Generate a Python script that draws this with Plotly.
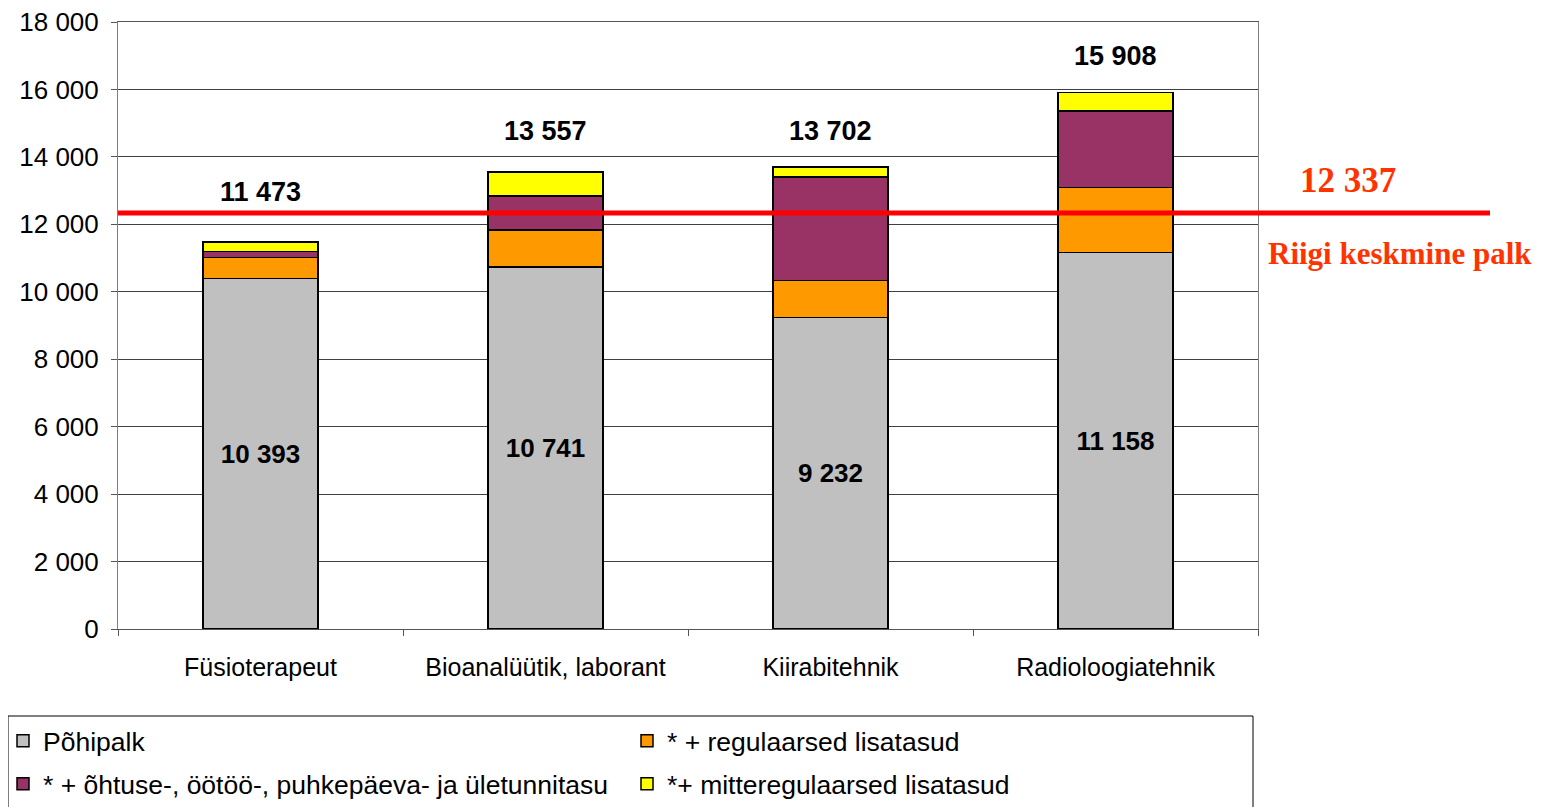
import plotly.graph_objects as go

categories = ["Füsioterapeut", "Bioanalüütik, laborant", "Kiirabitehnik", "Radioloogiatehnik"]
series_names = ["Põhipalk", "* + regulaarsed lisatasud",
                "* + õhtuse-, öötöö-, puhkepäeva- ja ületunnitasu", "*+ mitteregulaarsed lisatasud"]
pohipalk = [10393, 10741, 9232, 11158]
regulaarsed = [618, 1089, 1098, 1932]
ohtuse = [178, 1010, 3080, 2270]
mitteregulaarsed = [284, 717, 292, 548]
totals = [11473, 13557, 13702, 15908]
avg_salary = 12337
avg_label = "12 337"
avg_caption = "Riigi keskmine palk"
y_ticks = [0, 2000, 4000, 6000, 8000, 10000, 12000, 14000, 16000, 18000]


def fmt(v):
    return f"{v:,}".replace(",", " ")


colors = ["#C0C0C0", "#FF9900", "#993366", "#FFFF00"]
values = [pohipalk, regulaarsed, ohtuse, mitteregulaarsed]
legend_ids = ["legend", "legend", "legend2", "legend2"]

W, H = 1548, 807
OFF = 8  # page body margin
L, R, T, B = 118 - OFF, 1548 - 1258 + OFF, 22 - OFF, 807 - 629 + OFF
PW, PH = W - L - R, H - T - B


def px_x(p):
    return (p - OFF - L) / PW


def px_y(p):
    return (H - B - (p - OFF)) / PH


fig = go.Figure()
for i, (name, vals, col, lg) in enumerate(zip(series_names, values, colors, legend_ids)):
    kw = {}
    if i == 0:
        kw = dict(text=[fmt(v) for v in vals], textposition="inside",
                  insidetextanchor="middle",
                  textfont=dict(family="Liberation Sans", size=26, color="black", weight="bold"),
                  textangle=0)
    fig.add_trace(go.Bar(x=categories, y=vals, name=name, legend=lg,
                         marker=dict(color=col, line=dict(color="black", width=1.5)),
                         hoverinfo="skip", **kw))

label_shift = [50, 41, 36, 37]
for c, t, s in zip(categories, totals, label_shift):
    fig.add_annotation(x=c, y=t, text=fmt(t), showarrow=False, yanchor="middle", yshift=s,
                       font=dict(family="Liberation Sans", size=27, color="black", weight="bold"))

fig.add_shape(type="line", xref="paper", yref="y", x0=0, x1=px_x(1490), y0=avg_salary, y1=avg_salary,
              line=dict(color="#FF0000", width=5), layer="above")
fig.add_annotation(xref="paper", yref="y", x=px_x(1348), y=avg_salary, text=avg_label, showarrow=False,
                   xanchor="center", yanchor="middle", yshift=32,
                   font=dict(family="Liberation Serif", size=35, color="#FF3300", weight="bold"))
fig.add_annotation(xref="paper", yref="y", x=px_x(1400), y=avg_salary, text=avg_caption, showarrow=False,
                   xanchor="center", yanchor="middle", yshift=-41,
                   font=dict(family="Liberation Serif", size=31, color="#FF3300", weight="bold"))

# legend frame
fig.add_shape(type="rect", xref="paper", yref="paper", x0=px_x(8), x1=px_x(1253),
              y0=px_y(716), y1=px_y(820), line=dict(color="black", width=1), fillcolor="white",
              layer="below")

leg_common = dict(orientation="h", xanchor="left", yanchor="middle",
                  entrywidth=579, entrywidthmode="pixels", traceorder="normal",
                  borderwidth=0, bgcolor="rgba(0,0,0,0)",
                  font=dict(family="Liberation Sans", size=26.5, color="black"))

fig.update_layout(
    width=W, height=H,
    margin=dict(l=L, r=R, t=T, b=B, autoexpand=False),
    barmode="stack", bargap=0.595,
    plot_bgcolor="white", paper_bgcolor="white",
    font=dict(family="Liberation Sans", size=25, color="black"),
    showlegend=True,
    legend=dict(x=px_x(3), y=px_y(741), **leg_common),
    legend2=dict(x=px_x(3), y=px_y(784), **leg_common),
)
fig.update_xaxes(showgrid=False, tickson="boundaries", ticks="outside", ticklen=6,
                 tickcolor="#555", showline=True, linecolor="#555", linewidth=1, mirror=True,
                 tickfont=dict(size=25), ticklabelstandoff=16, ticklabeloverflow="allow")
fig.update_yaxes(range=[0, 18000], tickvals=y_ticks, ticktext=[fmt(v) for v in y_ticks],
                 showgrid=True, gridcolor="#404040", gridwidth=1, ticks="outside", ticklen=6,
                 tickcolor="#555", showline=True, linecolor="#808080", linewidth=1, mirror=True,
                 zeroline=False, tickfont=dict(size=26), ticklabelstandoff=7,
                 ticklabeloverflow="allow")

fig.write_html("out.html")
